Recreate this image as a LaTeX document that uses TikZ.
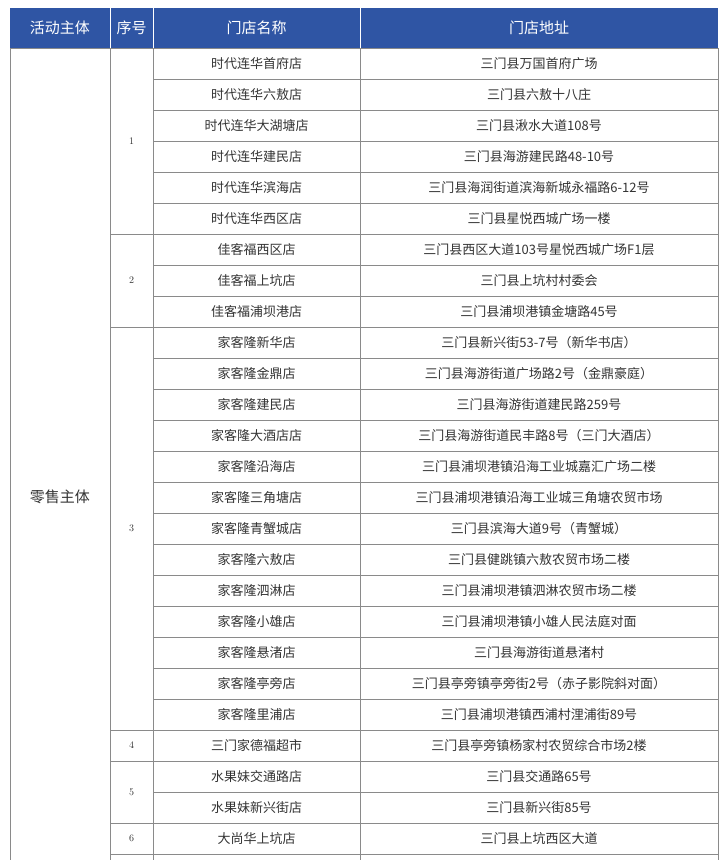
\documentclass[tikz,border=0pt]{standalone}
\usepackage{fontspec}
\newfontfamily\cjk{Noto Sans CJK SC}
\definecolor{headblue}{HTML}{2F55A4}
\definecolor{txt}{HTML}{333333}
\definecolor{rule}{HTML}{8A8A8A}
\begin{document}
\begin{tikzpicture}[x=1pt,y=-1pt]
\tikzstyle{head}=[text=white,font=\cjk\fontsize{15}{15}\selectfont]
\tikzstyle{cell}=[text=txt,font=\cjk\fontsize{13}{13}\selectfont]
\tikzstyle{num}=[text=txt,font=\fontsize{10}{10}\selectfont]
\tikzstyle{grid}=[draw=rule,line width=0.8pt]
\useasboundingbox (0,0) rectangle (726,860);
\fill[white] (0,0) rectangle (726,860);
% header
\fill[headblue] (10,8) rectangle (718,48);
\draw[white,line width=1pt] (110,8) -- (110,48) (153,8) -- (153,48) (360,8) -- (360,48);
\node [head] (h1) at (60,28) {活动主体};
\node [head] (h2) at (131.5,28) {序号};
\node [head] (h3) at (256.5,28) {门店名称};
\node [head] (h4) at (539,28) {门店地址};
% rows
\foreach \name/\addr [count=\i from 0] in {
时代连华首府店/三门县万国首府广场,
时代连华六敖店/三门县六敖十八庄,
时代连华大湖塘店/三门县湫水大道108号,
时代连华建民店/三门县海游建民路48-10号,
时代连华滨海店/三门县海润街道滨海新城永福路6-12号,
时代连华西区店/三门县星悦西城广场一楼,
佳客福西区店/三门县西区大道103号星悦西城广场F1层,
佳客福上坑店/三门县上坑村村委会,
佳客福浦坝港店/三门县浦坝港镇金塘路45号,
家客隆新华店/三门县新兴街53-7号（新华书店）,
家客隆金鼎店/三门县海游街道广场路2号（金鼎豪庭）,
家客隆建民店/三门县海游街道建民路259号,
家客隆大酒店店/三门县海游街道民丰路8号（三门大酒店）,
家客隆沿海店/三门县浦坝港镇沿海工业城嘉汇广场二楼,
家客隆三角塘店/三门县浦坝港镇沿海工业城三角塘农贸市场,
家客隆青蟹城店/三门县滨海大道9号（青蟹城）,
家客隆六敖店/三门县健跳镇六敖农贸市场二楼,
家客隆泗淋店/三门县浦坝港镇泗淋农贸市场二楼,
家客隆小雄店/三门县浦坝港镇小雄人民法庭对面,
家客隆悬渚店/三门县海游街道悬渚村,
家客隆亭旁店/三门县亭旁镇亭旁街2号（赤子影院斜对面）,
家客隆里浦店/三门县浦坝港镇西浦村浬浦街89号,
三门家德福超市/三门县亭旁镇杨家村农贸综合市场2楼,
水果妹交通路店/三门县交通路65号,
水果妹新兴街店/三门县新兴街85号,
大尚华上坑店/三门县上坑西区大道}{
  \node [cell] (n\i) at (256.5,{63.5+31*\i}) {\name};
  \node [cell] (a\i) at (539,{63.5+31*\i}) {\addr};
  \draw [grid] (153,{79+31*\i}) -- (718,{79+31*\i});
}
% group numbers
\foreach \k/\top/\bot in {1/48/234,2/234/327,3/327/730,4/730/761,5/761/823,6/823/854}{
  \node [num] (s\k) at (131.5,{(\top+\bot)/2}) {\k};
  \draw [grid] (110,\bot) -- (153,\bot);
}
\node [cell,font=\cjk\fontsize{15}{15}\selectfont] (body) at (60,497) {零售主体};
% verticals
\draw [grid] (10,48) -- (10,860) (110,48) -- (110,860) (153,48) -- (153,860)
  (360,48) -- (360,860) (718,48) -- (718,860) (10,48) -- (718,48);
\end{tikzpicture}
\end{document}
